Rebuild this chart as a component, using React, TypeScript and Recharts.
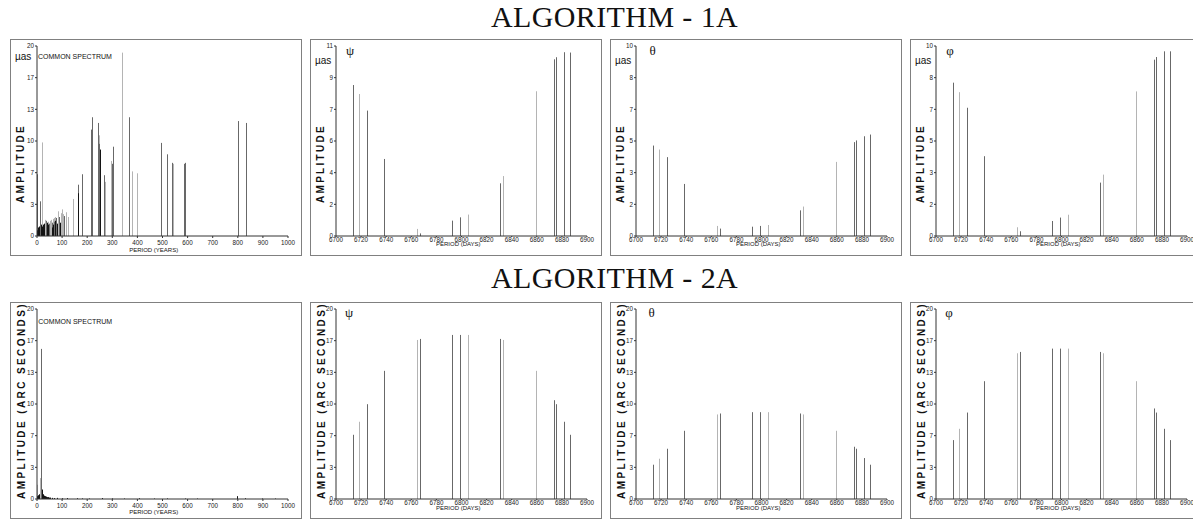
import React from 'react';
import { BarChart, Bar, XAxis, YAxis } from 'recharts';

// ---------- tick labels ----------
const YEAR_TICKS = [0, 100, 200, 300, 400, 500, 600, 700, 800, 900, 1000];
const DAY_TICKS = [6700, 6720, 6740, 6760, 6780, 6800, 6820, 6840, 6860, 6880, 6900];

// ---------- day-period spectra (ψ, θ, φ) ----------
const DAY_PERIODS = [6713.8, 6718.0, 6724.4, 6738.5, 6764.5, 6767.1, 6792.6, 6798.9, 6804.8, 6830.5, 6833.4, 6859.7, 6873.7, 6875.3, 6881.7, 6886.2];
const PSI_1A = [8.74, 8.22, 7.26, 4.46, 0.41, 0.15, 0.89, 1.08, 1.24, 3.05, 3.47, 8.38, 10.23, 10.35, 10.64, 10.62];
const THETA_1A = [4.76, 4.55, 4.15, 2.74, 0.53, 0.39, 0.49, 0.53, 0.58, 1.35, 1.55, 3.9, 4.94, 5.03, 5.25, 5.34];
const PHI_1A = [8.07, 7.57, 6.75, 4.2, 0.46, 0.25, 0.79, 0.97, 1.12, 2.81, 3.23, 7.61, 9.28, 9.42, 9.72, 9.72];
const PSI_2A = [6.76, 8.13, 9.98, 13.49, 16.74, 16.85, 17.27, 17.27, 17.27, 16.85, 16.74, 13.49, 10.4, 9.98, 8.13, 6.76];
const THETA_2A = [3.61, 4.24, 5.29, 7.18, 8.9, 9.0, 9.14, 9.14, 9.14, 9.0, 8.9, 7.18, 5.5, 5.29, 4.31, 3.61];
const PHI_2A = [6.2, 7.39, 9.1, 12.4, 15.34, 15.48, 15.83, 15.83, 15.83, 15.48, 15.34, 12.4, 9.53, 9.1, 7.39, 6.2];
const DAY_SHADES = ['d', 'l', 'd', 'd', 'l', 'd', 'd', 'd', 'l', 'd', 'l', 'l', 'd', 'd', 'd', 'd'];

// ---------- common spectrum, algorithm 1A (years) ----------
const YEARS_1A_PERIOD = [1, 2, 3, 4, 5, 6, 7, 8, 9, 10, 11, 12, 13, 14, 15, 16, 17, 18, 19, 20, 21, 22, 23, 24, 26, 27, 28, 30, 31, 33, 35, 36, 38, 40, 42, 44, 46, 47, 49, 51, 53, 55, 57, 59, 61, 63, 65, 67, 69, 71, 73, 75, 78, 80, 84, 88, 92, 97, 100, 103, 106, 110, 116, 125, 145, 165, 167, 180, 217, 220, 247, 249, 251, 253, 267, 273, 297, 299, 304, 342, 370, 381, 400, 495, 519, 540, 543, 586, 590, 801, 833];
const YEARS_1A_AMP = [6.5, 0.3, 0.6, 0.2, 0.8, 0.4, 0.9, 0.5, 0.7, 1.0, 0.4, 0.8, 0.6, 1.1, 3.65, 0.7, 0.9, 0.5, 1.2, 9.85, 0.8, 1.0, 0.6, 0.9, 1.2, 0.5, 1.0, 0.7, 1.3, 0.8, 1.7, 1.1, 1.6, 0.9, 1.4, 0.6, 1.5, 1.2, 0.8, 1.3, 1.0, 1.6, 1.1, 1.7, 1.4, 0.9, 1.8, 1.2, 1.9, 1.5, 2.0, 1.6, 1.9, 1.3, 2.6, 2.0, 1.4, 2.4, 2.2, 2.8, 2.3, 2.1, 2.5, 2.0, 3.9, 5.4, 4.5, 6.5, 11.2, 12.5, 11.9, 10.6, 9.7, 9.1, 6.4, 5.7, 7.9, 7.6, 9.4, 19.3, 12.5, 6.8, 6.6, 9.8, 8.6, 7.7, 7.6, 7.6, 7.7, 12.1, 11.9];
const YEARS_1A_SHADE = ['d', 'k', 'k', 'k', 'k', 'k', 'k', 'k', 'k', 'k', 'k', 'k', 'k', 'k', 'd', 'k', 'k', 'k', 'k', 'l', 'k', 'k', 'k', 'k', 'k', 'k', 'k', 'k', 'k', 'k', 'l', 'k', 'd', 'k', 'k', 'k', 'l', 'k', 'k', 'd', 'k', 'l', 'k', 'l', 'd', 'k', 'l', 'k', 'l', 'd', 'l', 'k', 'd', 'k', 'l', 'd', 'k', 'l', 'd', 'l', 'l', 'd', 'l', 'l', 'l', 'd', 'k', 'd', 'd', 'd', 'd', 'l', 'd', 'k', 'd', 'l', 'l', 'd', 'd', 'l', 'd', 'l', 'l', 'd', 'd', 'd', 'l', 'd', 'd', 'd', 'd'];

// ---------- common spectrum, algorithm 2A (years) ----------
const YEARS_2A_PERIOD = [1, 2, 4, 6, 8, 10, 12, 14, 15, 17, 18.6, 20, 21, 23, 25, 27, 30, 33, 36, 40, 45, 50, 55, 60, 70, 80, 100, 120, 160, 180, 210, 260, 300, 350, 410, 470, 520, 590, 640, 800, 830, 900, 950];
const YEARS_2A_AMP = [1.5, 0.2, 0.3, 0.2, 0.4, 0.3, 0.5, 0.6, 2.2, 0.8, 15.8, 1.0, 0.8, 0.6, 0.5, 0.4, 0.35, 0.3, 0.25, 0.2, 0.2, 0.15, 0.15, 0.12, 0.1, 0.12, 0.08, 0.1, 0.08, 0.06, 0.05, 0.1, 0.06, 0.05, 0.08, 0.05, 0.06, 0.05, 0.05, 0.3, 0.08, 0.05, 0.05];
const YEARS_2A_SHADE = ['l', 'k', 'k', 'k', 'k', 'k', 'k', 'k', 'l', 'k', 'd', 'k', 'k', 'k', 'k', 'k', 'k', 'k', 'k', 'k', 'k', 'k', 'k', 'k', 'k', 'k', 'k', 'k', 'k', 'k', 'k', 'k', 'k', 'k', 'k', 'k', 'k', 'k', 'k', 'k', 'k', 'k', 'k'];

// ---------- styling ----------
const SHADE_COLOR: Record<string, string> = { k: '#141414', d: '#686868', l: '#b4b4b4' };
const SANS = '"Liberation Sans", Arial, sans-serif';
const SERIF = '"Liberation Serif", "Times New Roman", serif';
const PANEL_W = 292;
const PANEL_H = 217;
const COL_LEFTS = [10, 310, 610, 910];
const ROW_TOPS = [39, 302];

const rowsOf = (periods: number[], amps: number[], shades: string[]) =>
  periods.map((p, i) => ({ p, a: amps[i], s: shades[i] }));

const LineBar = (props: any) => {
  const { x, y, width, height, payload } = props;
  if (x == null || y == null || !height || height <= 0) return null;
  const cx = Math.floor(x + (width || 0) / 2);
  return <rect x={cx} y={y} width={1} height={height} fill={SHADE_COLOR[payload.s] || '#686868'} />;
};

type PanelProps = {
  left: number;
  top: number;
  rows: { p: number; a: number; s: string }[];
  years: boolean;
  yMax: number;
};

function Panel({ left, top, rows, years, yMax }: PanelProps) {
  const yTicks = [0, 1, 2, 3, 4, 5, 6].map((i) => (yMax * i) / 6);
  const tickStyle = { fontSize: 6.3, fill: '#222', fontFamily: SANS };
  return (
    <div style={{ position: 'absolute', left, top, width: PANEL_W, height: PANEL_H }}>
      <div
        style={{
          position: 'absolute',
          left: 0,
          top: 0,
          width: PANEL_W,
          height: PANEL_H,
          border: '1px solid #808080',
          boxSizing: 'border-box',
        }}
      />
      <BarChart
        width={PANEL_W}
        height={PANEL_H}
        data={rows}
        margin={{ top: 7, right: years ? 14 : 15, bottom: 0, left: 0 }}
        barSize={1}
      >
        <XAxis
          type="number"
          dataKey="p"
          domain={years ? [0, 1000] : [6700, 6900]}
          ticks={years ? YEAR_TICKS : DAY_TICKS}
          interval={0}
          height={20}
          tick={tickStyle}
          tickSize={years ? 2 : 1}
          tickMargin={years ? 3 : 1}
          axisLine={{ stroke: '#333' }}
          tickLine={{ stroke: '#333' }}
          allowDataOverflow
        />
        <YAxis
          type="number"
          domain={[0, yMax]}
          ticks={yTicks}
          interval={0}
          width={years ? 27 : 26}
          tick={tickStyle}
          tickSize={2}
          tickMargin={1}
          tickFormatter={(v: number) => String(Math.round(v))}
          axisLine={{ stroke: '#333' }}
          tickLine={{ stroke: '#333' }}
          allowDataOverflow
        />
        <Bar dataKey="a" isAnimationActive={false} shape={LineBar} />
      </BarChart>
    </div>
  );
}

export default function App() {
  const row1 = [
    { rows: rowsOf(YEARS_1A_PERIOD, YEARS_1A_AMP, YEARS_1A_SHADE), years: true, yMax: 20 },
    { rows: rowsOf(DAY_PERIODS, PSI_1A, DAY_SHADES), years: false, yMax: 11 },
    { rows: rowsOf(DAY_PERIODS, THETA_1A, DAY_SHADES), years: false, yMax: 10 },
    { rows: rowsOf(DAY_PERIODS, PHI_1A, DAY_SHADES), years: false, yMax: 10 },
  ];
  const row2 = [
    { rows: rowsOf(YEARS_2A_PERIOD, YEARS_2A_AMP, YEARS_2A_SHADE), years: true, yMax: 20 },
    { rows: rowsOf(DAY_PERIODS, PSI_2A, DAY_SHADES), years: false, yMax: 20 },
    { rows: rowsOf(DAY_PERIODS, THETA_2A, DAY_SHADES), years: false, yMax: 20 },
    { rows: rowsOf(DAY_PERIODS, PHI_2A, DAY_SHADES), years: false, yMax: 20 },
  ];
  const greek = ['ψ', 'θ', 'φ'];
  const greekDx = [40, 42.5, 40];

  return (
    <div
      style={{
        position: 'absolute',
        left: 0,
        top: 0,
        width: 1193,
        height: 519,
        overflow: 'hidden',
        background: '#fff',
      }}
    >
      {row1.map((c, i) => (
        <Panel key={'r1' + i} left={COL_LEFTS[i]} top={ROW_TOPS[0]} rows={c.rows} years={c.years} yMax={c.yMax} />
      ))}
      {row2.map((c, i) => (
        <Panel key={'r2' + i} left={COL_LEFTS[i]} top={ROW_TOPS[1]} rows={c.rows} years={c.years} yMax={c.yMax} />
      ))}
      <svg
        width={1193}
        height={519}
        style={{ position: 'absolute', left: 0, top: 0, pointerEvents: 'none' }}
      >
        <text x={614.5} y={26.7} textAnchor="middle" fontFamily={SERIF} fontSize={30} letterSpacing={0.4} fill="#111">
          ALGORITHM - 1A
        </text>
        <text x={614.5} y={288.3} textAnchor="middle" fontFamily={SERIF} fontSize={30} letterSpacing={0.4} fill="#111">
          ALGORITHM - 2A
        </text>

        {/* Row 1 annotations */}
        <text x={38} y={59.2} fontFamily={SANS} fontSize={7} fill="#111">
          COMMON SPECTRUM
        </text>
        {COL_LEFTS.map((l, i) => (
          <text key={'mu' + i} x={l + 5} y={i === 0 ? 60 : 64} fontFamily={SANS} fontSize={10} fill="#111">
            µas
          </text>
        ))}
        {greek.map((g, i) => (
          <text key={'g1' + i} x={COL_LEFTS[i + 1] + greekDx[i]} y={54.5} textAnchor="middle" fontFamily={SERIF} fontSize={13} fill="#111">
            {g}
          </text>
        ))}
        {COL_LEFTS.map((l, i) => (
          <text
            key={'amp1' + i}
            transform={`translate(${l + 10.5},${163.5}) rotate(-90)`}
            textAnchor="middle"
            dominantBaseline="central"
            fontFamily={SANS}
            fontWeight="bold"
            fontSize={10}
            letterSpacing={2.3}
            fill="#111"
          >
            AMPLITUDE
          </text>
        ))}
        {COL_LEFTS.map((l, i) => (
          <text
            key={'per1' + i}
            x={l + (i === 0 ? 143.7 : 148.3)}
            y={i === 0 ? 249.5 : 244.3}
            textAnchor="middle"
            dominantBaseline="central"
            fontFamily={SANS}
            fontSize={6}
            fill="#111"
          >
            {i === 0 ? 'PERIOD (YEARS)' : 'PERIOD (DAYS)'}
          </text>
        ))}

        {/* Row 2 annotations */}
        <text x={38.3} y={324.2} fontFamily={SANS} fontSize={7} fill="#111">
          COMMON SPECTRUM
        </text>
        {greek.map((g, i) => (
          <text key={'g2' + i} x={COL_LEFTS[i + 1] + greekDx[i] - 1} y={317} textAnchor="middle" fontFamily={SERIF} fontSize={13} fill="#111">
            {g}
          </text>
        ))}
        {COL_LEFTS.map((l, i) => (
          <text
            key={'amp2' + i}
            transform={`translate(${l + 11.5},${400.5}) rotate(-90)`}
            textAnchor="middle"
            dominantBaseline="central"
            fontFamily={SANS}
            fontWeight="bold"
            fontSize={10}
            letterSpacing={2.4}
            fill="#111"
          >
            AMPLITUDE (ARC SECONDS)
          </text>
        ))}
        {COL_LEFTS.map((l, i) => (
          <text
            key={'per2' + i}
            x={l + (i === 0 ? 143.7 : 148.3)}
            y={i === 0 ? 512.3 : 508}
            textAnchor="middle"
            dominantBaseline="central"
            fontFamily={SANS}
            fontSize={6}
            fill="#111"
          >
            {i === 0 ? 'PERIOD (YEARS)' : 'PERIOD (DAYS)'}
          </text>
        ))}
      </svg>
    </div>
  );
}
